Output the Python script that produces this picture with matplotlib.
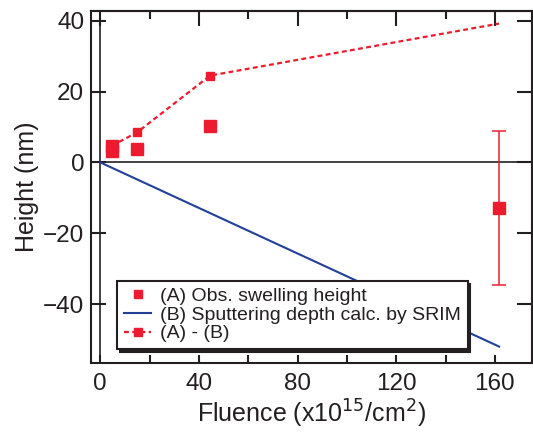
import numpy as np
import matplotlib
matplotlib.use('Agg')
import matplotlib.pyplot as plt

plt.rcParams['font.family'] = ['Liberation Sans', 'DejaVu Sans']
plt.rcParams['text.color'] = '#231f20'
plt.rcParams['axes.labelcolor'] = '#231f20'
plt.rcParams['xtick.color'] = '#231f20'
plt.rcParams['ytick.color'] = '#231f20'

# observed swelling height (A)
fluence_a = [4.7, 4.7, 15.0, 44.5, 161.7]
height_a = [4.6, 3.2, 3.8, 10.3, -12.8]
err_a = [0, 0, 0, 0, 21.8]

# sputtering depth from SRIM (B)
fluence_b = [0.0, 161.7]
depth_b = [0.0, -52.0]

# difference (A) - (B)
fluence_ab = [4.7, 15.0, 44.5, 161.7]
height_ab = [4.7, 8.5, 24.5, 39.2]

red = '#ec1c2e'
blue = '#22409a'

fig = plt.figure(figsize=(5.33, 4.32), dpi=100)
ax = fig.add_axes([0.171, 0.160, 0.827, 0.815])

ax.axhline(0, color='#231f20', lw=1.2, zorder=1)
ax.axvline(0, color='#231f20', lw=1.2, zorder=1)

# only the last point carries an error bar
ax.errorbar(fluence_a[-1:], height_a[-1:], yerr=err_a[-1:], fmt='none',
            ecolor=red, elinewidth=1.1, capsize=4.7, capthick=1.1, zorder=3)
ax.plot(fluence_a, height_a, 's', color=red, ms=9, ls='none', zorder=4,
        label='(A) Obs. swelling height')
ax.plot(fluence_b, depth_b, '-', color=blue, lw=1.5, zorder=2,
        label='(B) Sputtering depth calc. by SRIM')
ax.plot(fluence_ab, height_ab, color=red, lw=1.6, ls=(0, (2.2, 1.5)),
        marker='s', ms=5.8, markevery=[0, 1, 2], zorder=3, label='(A) - (B)')

ax.set_xlim(-3.7, 175)
ax.set_ylim(-56.6, 42.8)
ax.set_xticks([0, 40, 80, 120, 160])
ax.set_xticks([20, 60, 100, 140], minor=True)
ax.set_yticks([-40, -20, 0, 20, 40])

for s in ax.spines.values():
    s.set_linewidth(1.5)
    s.set_color('#231f20')

ax.tick_params(axis='both', which='both', direction='in', labelsize=17.5,
               width=1.5)
ax.tick_params(axis='x', which='both', length=6, top=False, pad=7)
ax.tick_params(axis='y', which='major', length=11, right=True, pad=5)

# top axis uses longer major ticks than the bottom one
top = ax.secondary_xaxis('top')
top.set_xticks([0, 40, 80, 120, 160])
top.set_xticks([20, 60, 100, 140], minor=True)
top.tick_params(which='major', direction='in', length=11, width=1.5,
                labeltop=False)
top.tick_params(which='minor', direction='in', length=6, width=1.5)
top.spines['top'].set_linewidth(1.5)

ax.set_xlabel('Fluence (x10$^{15}$/cm$^{2}$)', fontsize=18, labelpad=2)
ax.set_ylabel('Height (nm)', fontsize=18, labelpad=3)

leg = ax.legend(loc='upper left', bbox_to_anchor=(0.059, 0.233),
                borderaxespad=0, fontsize=14, frameon=True, fancybox=False,
                shadow={'color': '#231f20', 'alpha': 1},
                handlelength=1.4, handletextpad=0.45, labelspacing=0.05,
                borderpad=0.35)
leg.get_frame().set_edgecolor('#231f20')
leg.get_frame().set_linewidth(1.5)
leg.get_frame().set_alpha(1)
leg.legend_handles[0].set_markersize(6)

fig.savefig('out.png', dpi=100)
